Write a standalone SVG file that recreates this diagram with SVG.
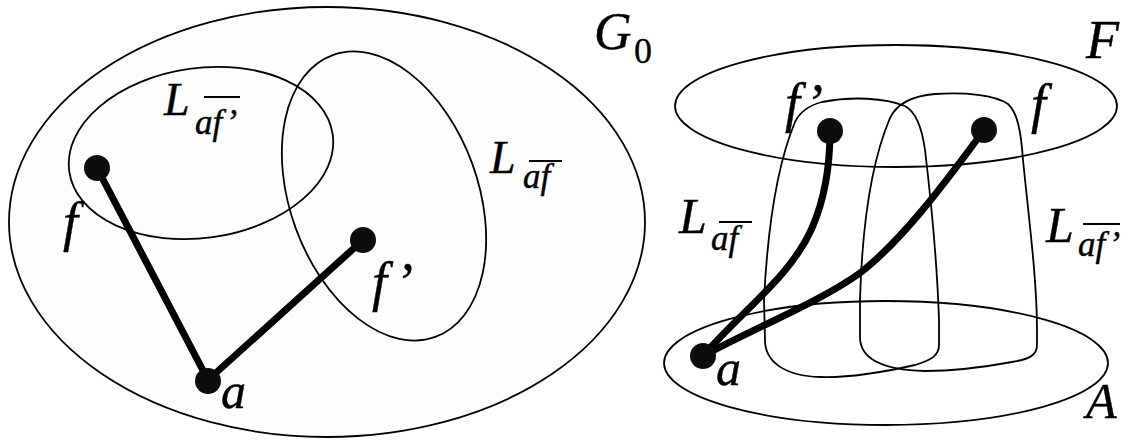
<svg xmlns="http://www.w3.org/2000/svg" width="1128" height="446" viewBox="0 0 1128 446">
<style>
.reg{fill:none;stroke:#000;stroke-width:1.8}
.outer{fill:#fdfdfd;stroke:#000;stroke-width:1.8}
.dot{fill:#0d0d0d}
.edge{fill:none;stroke:#000;stroke-width:7;stroke-linecap:round}
.t{font-family:"Liberation Serif","Times New Roman",serif;font-style:italic;fill:#000;stroke:#000;stroke-width:0.4}
.r{font-family:"Liberation Serif","Times New Roman",serif;font-style:normal;fill:#000;stroke:#000;stroke-width:0.3}
.ol{stroke:#000;stroke-width:2}
</style>
<rect width="1128" height="446" fill="#fff"/>
<g id="G0">
  <ellipse class="outer" cx="327" cy="222" rx="318" ry="215"/>
  <text class="t" x="594" y="49" font-size="52">G</text>
  <text class="r" x="634" y="63" font-size="36">0</text>
</g>
<g id="L_afp_left">
  <ellipse class="reg" cx="201" cy="153" rx="133" ry="85" transform="rotate(-8 201 153)"/>
  <text class="t" x="164" y="115" font-size="46">L</text>
  <text class="t" x="195" y="134" font-size="35">af’</text>
  <line class="ol" x1="204" y1="97" x2="240" y2="97"/>
</g>
<g id="L_af_left">
  <ellipse class="reg" cx="384" cy="196" rx="94" ry="150" transform="rotate(-20 384 196)"/>
  <text class="t" x="490" y="173" font-size="46">L</text>
  <text class="t" x="523" y="188" font-size="35">af</text>
  <line class="ol" x1="529" y1="161" x2="562" y2="161"/>
</g>
<g id="F">
  <ellipse class="reg" cx="896" cy="106" rx="221" ry="61"/>
  <text class="t" x="1086" y="58" font-size="54">F</text>
</g>
<g id="A">
  <ellipse class="reg" cx="886" cy="363" rx="222" ry="62"/>
  <text class="t" x="1086" y="418" font-size="50">A</text>
</g>
<g id="L_af_right">
  <path class="reg" d="M765,340 L764,300 C767,240 775,170 795,122 C800,112 810,105 822,102 C852,96 885,98 905,106 C916,112 922,128 925,150 C931,200 937,260 939,320 L939,345 C939,355 932,360 915,365 C880,373 850,378 820,377 C785,376 765,362 765,340 Z"/>
  <text class="t" x="679" y="233" font-size="50">L</text>
  <text class="t" x="711" y="250" font-size="35">af</text>
  <line class="ol" x1="719" y1="222" x2="752" y2="222"/>
</g>
<g id="L_afp_right">
  <path class="reg" d="M860,337 L860,300 C862,230 870,165 890,118 C897,103 912,96 935,94 C965,92 995,95 1008,104 C1017,112 1021,130 1023,160 C1029,220 1037,280 1037,330 L1037,345 C1037,355 1030,359 1012,362 C985,367 955,371 925,371 C885,370 860,360 860,337 Z"/>
  <text class="t" x="1046" y="242" font-size="50">L</text>
  <text class="t" x="1078" y="256" font-size="35">af’</text>
  <line class="ol" x1="1083" y1="224" x2="1120" y2="224"/>
</g>
<g id="connectors">
  <line class="edge" x1="97" y1="168" x2="208" y2="380"/>
  <line class="edge" x1="363" y1="240" x2="208" y2="380"/>
  <path class="edge" d="M703,356 C740,312 790,278 812,228 C826,196 830,160 830,131"/>
  <path class="edge" d="M703,356 C750,330 820,302 860,273 C900,242 940,190 984,130"/>
</g>
<g id="node_f_left">
  <circle class="dot" cx="97" cy="168" r="13"/>
  <text class="t" x="63" y="240" font-size="54">f</text>
</g>
<g id="node_fp_left">
  <circle class="dot" cx="363" cy="240" r="13"/>
  <text class="t" x="372" y="300" font-size="54">f<tspan dx="3">’</tspan></text>
</g>
<g id="node_a_left">
  <circle class="dot" cx="208" cy="381" r="13"/>
  <text class="t" x="221" y="408" font-size="50">a</text>
</g>
<g id="node_fp_right">
  <circle class="dot" cx="830" cy="131" r="13"/>
  <text class="t" x="785" y="121" font-size="54">f<tspan dx="0">’</tspan></text>
</g>
<g id="node_f_right">
  <circle class="dot" cx="984" cy="130" r="13"/>
  <text class="t" x="1031" y="122" font-size="54">f</text>
</g>
<g id="node_a_right">
  <circle class="dot" cx="703" cy="356" r="13"/>
  <text class="t" x="716" y="385" font-size="50">a</text>
</g>
</svg>
